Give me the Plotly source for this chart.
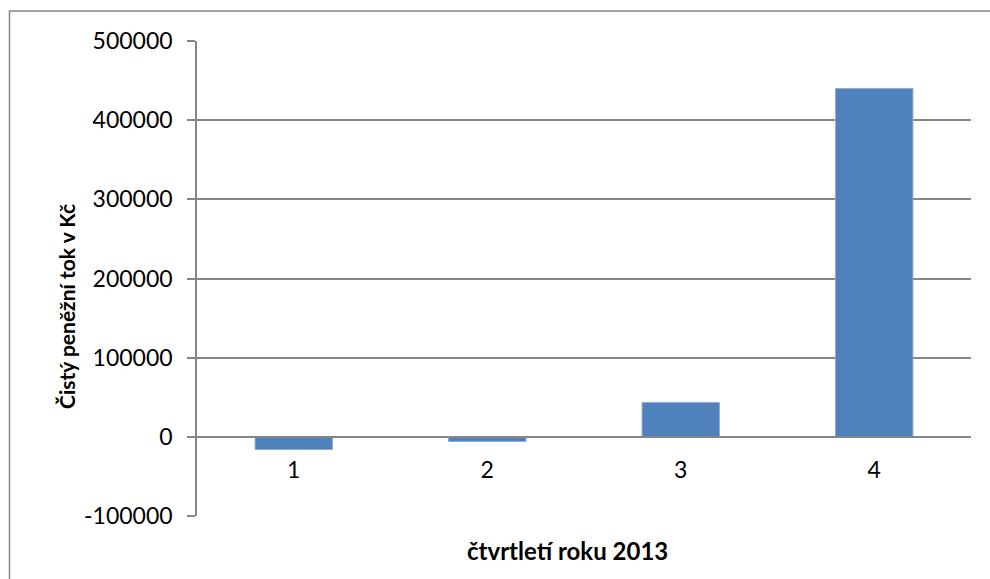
import plotly.graph_objects as go

categories = ["1", "2", "3", "4"]
values = [-16000, -5800, 43500, 440000]
y_ticks = [-100000, 0, 100000, 200000, 300000, 400000, 500000]

FONT = "Lato"
GRID = "#868686"

fig = go.Figure()
fig.add_trace(go.Bar(
    x=categories, y=values,
    marker=dict(color="#4F81BD", line=dict(color="#8EACD6", width=1)),
    width=0.4,
))

ymin, ymax = -100000, 500000
fig.update_layout(
    width=990, height=579,
    margin=dict(l=197, r=19, t=41, b=63),
    paper_bgcolor="white", plot_bgcolor="white",
    showlegend=False,
    font=dict(family=FONT, size=23, color="black"),
    xaxis=dict(
        type="category",
        anchor="free",
        position=(0 - ymin) / (ymax - ymin),
        showline=True, linecolor=GRID, linewidth=1.5,
        showgrid=False, zeroline=False,
        ticks="outside", ticklen=8, tickcolor="rgba(0,0,0,0)",
        ticklabelstandoff=5,
        tickfont=dict(family=FONT, size=23),
    ),
    yaxis=dict(
        range=[ymin, ymax],
        tickvals=y_ticks,
        ticktext=[str(v) for v in y_ticks],
        showgrid=True, gridcolor=GRID, gridwidth=1.5,
        zeroline=True, zerolinecolor=GRID, zerolinewidth=1.5,
        showline=True, linecolor=GRID, linewidth=1.5,
        ticks="outside", ticklen=8, tickcolor=GRID, tickwidth=1.5,
        ticklabelstandoff=10,
        tickfont=dict(family=FONT, size=23),
    ),
    annotations=[
        dict(
            text="<b>čtvrtletí roku 2013</b>",
            xref="paper", yref="paper", x=(567 - 197) / 774, y=(516 - 550) / 475,
            xanchor="center", yanchor="middle", showarrow=False,
            font=dict(family=FONT, size=24),
        ),
        dict(
            text="<b>Čistý peněžní tok v Kč</b>",
            xref="paper", yref="paper", x=(66 - 197) / 774, y=1 - (307 - 41) / 475,
            xanchor="center", yanchor="middle", showarrow=False, textangle=-90,
            font=dict(family=FONT, size=21),
        ),
    ],
    shapes=[dict(
        type="rect", xref="paper", yref="paper",
        x0=(9.5 - 197) / 774, x1=1.2,
        y0=-0.3, y1=1 + (41 - 11) / 475,
        line=dict(color=GRID, width=1.5),
        layer="below",
    )],
)

fig.write_html("out.html")
